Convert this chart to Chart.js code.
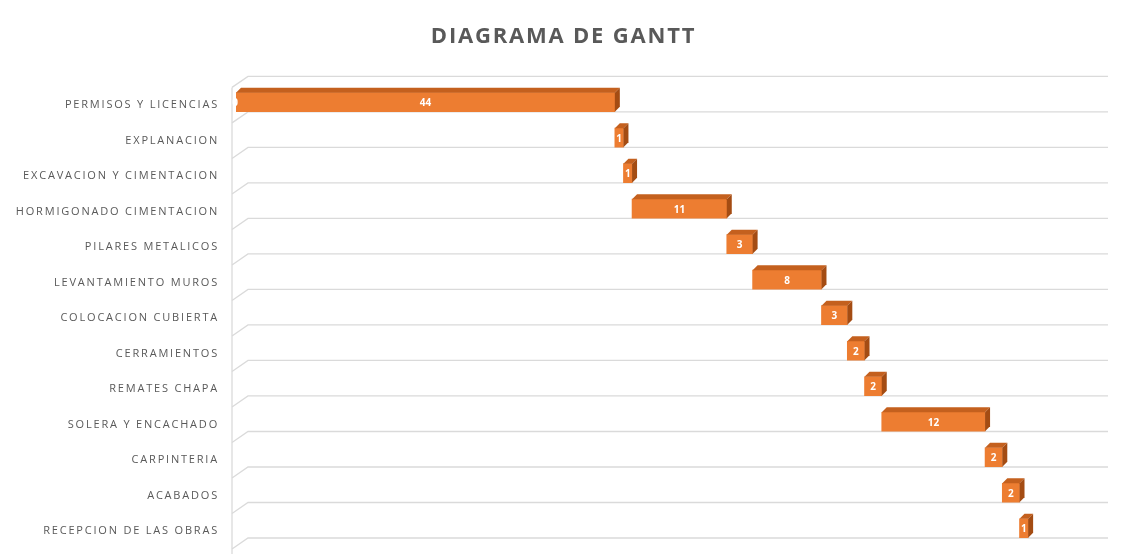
<!DOCTYPE html>
<html><head><meta charset="utf-8">
<script src="https://cdn.jsdelivr.net/npm/chart.js@4/dist/chart.umd.min.js"></script>
<style>html,body{margin:0;padding:0;background:#fff}canvas{display:block}</style>
</head><body>
<canvas id="c" width="1121" height="559"></canvas>
<script>
const chartTitle = 'DIAGRAMA DE GANTT';
const categories = [
  'PERMISOS Y LICENCIAS','EXPLANACION','EXCAVACION Y CIMENTACION','HORMIGONADO CIMENTACION',
  'PILARES METALICOS','LEVANTAMIENTO MUROS','COLOCACION CUBIERTA','CERRAMIENTOS',
  'REMATES CHAPA','SOLERA Y ENCACHADO','CARPINTERIA','ACABADOS','RECEPCION DE LAS OBRAS'
];
const startDays = [0, 44, 45, 46, 57, 60, 68, 71, 73, 75, 87, 89, 91];
const durations = [44, 1, 1, 11, 3, 8, 3, 2, 2, 12, 2, 2, 1];

const ORANGE = '#ED7D31', TOPC = '#C4601E', SIDEC = '#A44C13';

const spacingPlugin = {
  id: 'spacing',
  afterLayout(chart) { if (chart.titleBlock) chart.titleBlock.left = 30; },
  beforeDraw(chart) { chart.ctx.letterSpacing = '1.8px'; }
};

const wallPlugin = {
  id: 'wall',
  beforeDatasetsDraw(chart) {
    const { ctx, chartArea: a, scales: { y } } = chart;
    const step = y.getPixelForValue(1) - y.getPixelForValue(0);
    const first = y.getPixelForValue(0) - step / 2;
    ctx.save();
    ctx.letterSpacing = '0px';
    ctx.strokeStyle = '#dadada';
    ctx.lineWidth = 1.3;
    const fx = a.left - 4, bx = a.left + 12, rx = a.right + 11, up = 8, down = 3;
    for (let i = 0; i <= categories.length; i++) {
      const b = first + step * i;
      ctx.beginPath();
      ctx.moveTo(fx, b + down); ctx.lineTo(bx, b - up); ctx.lineTo(rx, b - up);
      ctx.stroke();
    }
    ctx.beginPath();
    ctx.moveTo(fx, first + down); ctx.lineTo(fx, first + step * categories.length + 8);
    ctx.stroke();
    ctx.restore();
  }
};

const threeDPlugin = {
  id: 'threeD',
  afterDatasetsDraw(chart) {
    const { ctx, scales: { x } } = chart;
    const meta = chart.getDatasetMeta(1);
    ctx.save();
    ctx.letterSpacing = '0px';
    const d = 5;
    meta.data.forEach((bar, i) => {
      const p = bar.getProps(['x', 'base', 'y', 'height'], true);
      const l = Math.min(p.x, p.base), r = Math.max(p.x, p.base);
      const t = p.y - p.height / 2, bm = p.y + p.height / 2;
      ctx.fillStyle = TOPC;
      ctx.beginPath();
      ctx.moveTo(l, t); ctx.lineTo(l + d, t - d); ctx.lineTo(r + d, t - d); ctx.lineTo(r, t);
      ctx.closePath(); ctx.fill();
      ctx.fillStyle = SIDEC;
      ctx.beginPath();
      ctx.moveTo(r, t); ctx.lineTo(r + d, t - d); ctx.lineTo(r + d, bm - d); ctx.lineTo(r, bm);
      ctx.closePath(); ctx.fill();
      ctx.fillStyle = '#ffffff';
      ctx.font = 'bold 10px "Open Sans"';
      ctx.textAlign = 'center';
      ctx.textBaseline = 'middle';
      ctx.fillText(String(durations[i]), (l + r) / 2, p.y + 1);
      if (startDays[i] === 0) {
        ctx.fillText('0', x.getPixelForValue(startDays[i]) - 1, p.y + 1);
      }
    });
    ctx.restore();
  }
};

new Chart(document.getElementById('c'), {
  type: 'bar',
  data: {
    labels: categories,
    datasets: [
      { label: 'Inicio', data: startDays, backgroundColor: 'rgba(0,0,0,0)', barThickness: 19, borderWidth: 0 },
      { label: 'Duración', data: durations, backgroundColor: ORANGE, barThickness: 19, borderWidth: 0 }
    ]
  },
  options: {
    responsive: false,
    animation: false,
    indexAxis: 'y',
    layout: { padding: { left: 0, right: 24, top: 0, bottom: 13 } },
    plugins: {
      legend: { display: false },
      tooltip: { enabled: false },
      title: {
        display: true,
        text: chartTitle,
        color: '#595959',
        font: { family: '"Open Sans"', size: 22, weight: 'bold', lineHeight: 1.2 },
        padding: { top: 24, bottom: 34 }
      }
    },
    scales: {
      x: { stacked: true, min: 0, max: 100, display: false, afterFit(s) { s.height = 0; } },
      y: {
        stacked: true,
        grid: { display: false, drawTicks: false },
        border: { display: false },
        afterFit(s) { s.width = 236; s.paddingTop = 0; s.paddingBottom = 0; },
        ticks: {
          color: '#595959',
          padding: 17,
          labelOffset: 3,
          font: { family: '"Open Sans"', size: 11 }
        }
      }
    }
  },
  plugins: [spacingPlugin, wallPlugin, threeDPlugin]
});
</script>
</body></html>
